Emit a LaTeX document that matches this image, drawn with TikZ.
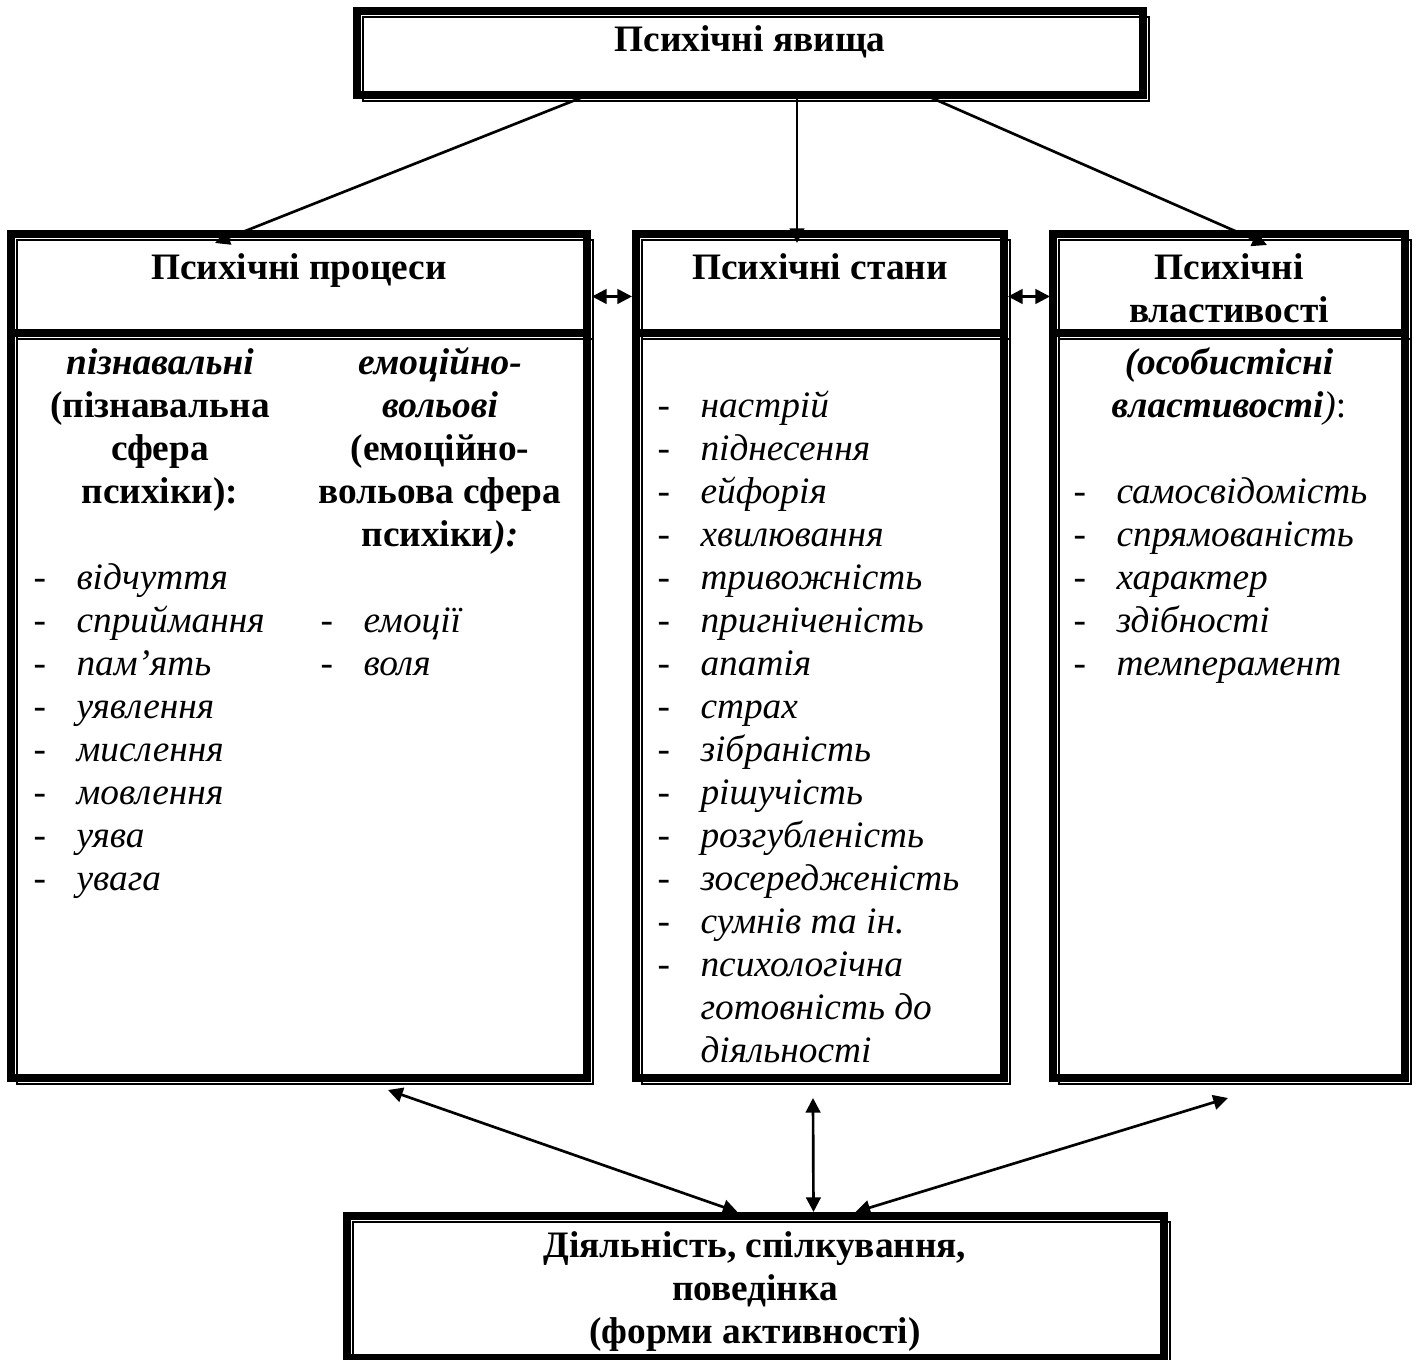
\documentclass[tikz,border=0pt]{standalone}
\usepackage{fontspec}
\setmainfont{Liberation Serif}
\usetikzlibrary{arrows.meta}
\newlength\pxl
\setlength\pxl{0.375pt}
\newcommand{\thinframe}[1]{\draw[thinline] ([shift={(6,6)}]#1.south west) rectangle ([shift={(6,6)}]#1.north east);}
\tikzset{
  frame/.style={draw,line width=3.2pt,rectangle,inner sep=0pt,outer sep=0pt,anchor=north west},
  thinline/.style={line width=0.6pt},
  txt/.style={inner sep=0pt,font=\fontsize{14pt}{16.125pt}\selectfont},
  hd/.style={inner sep=0pt,font=\fontsize{14pt}{16.125pt}\selectfont\bfseries},
  link/.style={line width=1pt}
}
\begin{document}
\begin{tikzpicture}[x=0.375pt,y=-0.375pt,>={Triangle[length=5.5pt,width=5.5pt]}]
\useasboundingbox (0,0) rectangle (1416,1360);
% boxes
\node[frame,minimum width=786\pxl,minimum height=84\pxl](top) at (357,11){};
\node[frame,minimum width=576\pxl,minimum height=99\pxl](procH) at (11,234){};
\node[frame,minimum width=576\pxl,minimum height=745\pxl](procB) at (11,333){};
\node[frame,minimum width=368\pxl,minimum height=99\pxl](stateH) at (636,234){};
\node[frame,minimum width=368\pxl,minimum height=745\pxl](stateB) at (636,333){};
\node[frame,minimum width=352\pxl,minimum height=99\pxl](propH) at (1053,234){};
\node[frame,minimum width=352\pxl,minimum height=745\pxl](propB) at (1053,333){};
\node[frame,minimum width=817\pxl,minimum height=142\pxl](act) at (347,1216){};
\thinframe{top}
\thinframe{procH}
\thinframe{procB}
\thinframe{stateH}
\thinframe{stateB}
\thinframe{propH}
\thinframe{propB}
\thinframe{act}
% headers
\node[hd,anchor=base](topT) at (750,52){Психічні явища};
\node[hd,anchor=base](procT) at (299,280){Психічні процеси};
\node[hd,anchor=base](stateT) at (820,280){Психічні стани};
\node[hd,anchor=base](propT) at (1229,280){\begin{tabular}[t]{@{}c@{}}Психічні\\властивості\end{tabular}};
\node[hd,anchor=base](actT) at (755,1258){\begin{tabular}[t]{@{}c@{}}Діяльність, спілкування,\\поведінка\\(форми активності)\end{tabular}};
% processes
\node[hd,anchor=base](cogT) at (160,375){\begin{tabular}[t]{@{}c@{}}\textit{пізнавальні}\\(пізнавальна\\сфера\\психіки):\end{tabular}};
\node[hd,anchor=base](emoT) at (440,375){\begin{tabular}[t]{@{}c@{}}\textit{емоційно-}\\\textit{вольові}\\(емоційно-\\вольова сфера\\психіки\textit{):}\end{tabular}};
\node[txt,anchor=base west](cogL) at (33,590){\begin{tabular}[t]{@{}p{43\pxl}@{}l@{}}
-&\textit{відчуття}\\-&\textit{сприймання}\\-&\textit{пам’ять}\\-&\textit{уявлення}\\
-&\textit{мислення}\\-&\textit{мовлення}\\-&\textit{уява}\\-&\textit{увага}\end{tabular}};
\node[txt,anchor=base west](emoL) at (320,633){\begin{tabular}[t]{@{}p{43\pxl}@{}l@{}}
-&\textit{емоції}\\-&\textit{воля}\end{tabular}};
% states
\node[txt,anchor=base west](stateL) at (657,418){\begin{tabular}[t]{@{}p{43\pxl}@{}l@{}}
-&\textit{настрій}\\-&\textit{піднесення}\\-&\textit{ейфорія}\\-&\textit{хвилювання}\\
-&\textit{тривожність}\\-&\textit{пригніченість}\\-&\textit{апатія}\\-&\textit{страх}\\
-&\textit{зібраність}\\-&\textit{рішучість}\\-&\textit{розгубленість}\\-&\textit{зосередженість}\\
-&\textit{сумнів та ін.}\\-&\textit{психологічна}\\&\textit{готовність до}\\&\textit{діяльності}\end{tabular}};
% properties
\node[txt,anchor=base](persT) at (1229,375){\begin{tabular}[t]{@{}c@{}}\textbf{\textit{(особистісні}}\\\textbf{\textit{властивості}}\textit{)}:\end{tabular}};
\node[txt,anchor=base west](propL) at (1073,504){\begin{tabular}[t]{@{}p{43\pxl}@{}l@{}}
-&\textit{самосвідомість}\\-&\textit{спрямованість}\\-&\textit{характер}\\-&\textit{здібності}\\
-&\textit{темперамент}\end{tabular}};
% connectors
\draw[link,->] ([xshift=-162\pxl]top.south) -- ([xshift=-84\pxl,yshift=-9\pxl]procH.north);
\draw[link,->] ([xshift=47\pxl]top.south) -- ([xshift=-23\pxl,yshift=-9\pxl]stateH.north);
\draw[link,->] ([xshift=175\pxl]top.south) -- ([xshift=38\pxl,yshift=-11\pxl]propH.north);
\draw[link,<->] ([xshift=5\pxl,yshift=-13\pxl]procH.east) -- ([xshift=-4\pxl,yshift=-13\pxl]stateH.west);
\draw[link,<->] ([xshift=4\pxl,yshift=-13\pxl]stateH.east) -- ([xshift=-3\pxl,yshift=-13\pxl]propH.west);
\draw[link,<->] ([xshift=89\pxl,yshift=-12\pxl]procB.south) -- ([xshift=-18\pxl,yshift=4\pxl]act.north);
\draw[link,<->] ([xshift=-7\pxl,yshift=-20\pxl]stateB.south) -- ([xshift=58\pxl,yshift=4\pxl]act.north);
\draw[link,<->] ([xshift=-1\pxl,yshift=-20\pxl]propB.south) -- ([xshift=100\pxl,yshift=4\pxl]act.north);
\end{tikzpicture}
\end{document}
